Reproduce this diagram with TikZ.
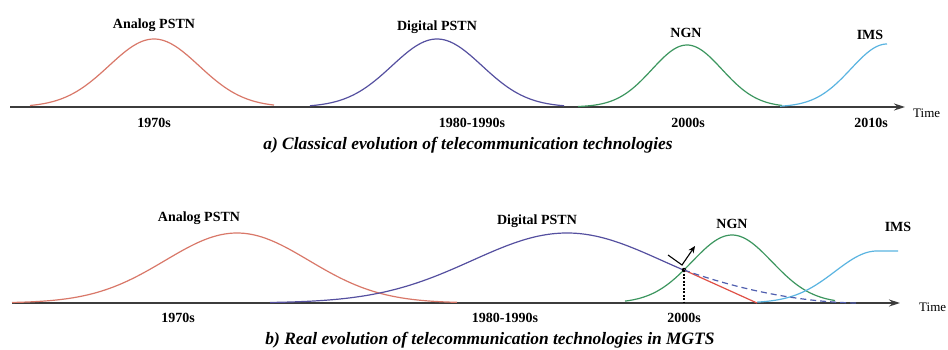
\documentclass[tikz,border=0pt]{standalone}
\usepackage{fontspec}
\setmainfont{Liberation Serif}
\usetikzlibrary{arrows.meta}
\definecolor{cRed}{RGB}{217,120,105}
\definecolor{cRedLine}{RGB}{224,80,70}
\definecolor{cBlue}{RGB}{85,80,160}
\definecolor{cDash}{RGB}{80,95,175}
\definecolor{cGreen}{RGB}{60,150,95}
\definecolor{cLight}{RGB}{90,180,225}
\definecolor{cAxis}{RGB}{60,60,60}
\begin{document}
\begin{tikzpicture}[x=1pt,y=-1pt,
  lbl/.style={font=\fontsize{14}{16}\selectfont\bfseries, anchor=base, inner sep=0pt},
  caplbl/.style={font=\fontsize{17.4}{20}\selectfont\bfseries\itshape, anchor=base, inner sep=0pt},
  timelbl/.style={font=\fontsize{13}{15}\selectfont, anchor=base west, inner sep=0pt},
  axisline/.style={draw=cAxis, line width=1.5pt, -{Stealth[length=11pt,width=7pt]}},
  curveline/.style={line width=1.2pt}
]
\fill[white] (0,0) rectangle (948,349);
\useasboundingbox (0,0) rectangle (948,349);

% ---------- panel a ----------
\coordinate (ta0) at (10,107);
\coordinate (ta1) at (905,107);
\draw[axisline] (ta0) -- (ta1);
\node[timelbl] (timeA) at (913,117) {Time};

\draw[cRed, curveline] plot[domain=30:274, samples=90] (\x, {107-68*exp(-0.5*((\x-154)/45)*((\x-154)/45))});
\draw[cBlue, curveline] plot[domain=310:564, samples=90] (\x, {107-68*exp(-0.5*((\x-437)/45)*((\x-437)/45))});
\draw[cGreen, curveline] plot[domain=578:782, samples=80] (\x, {107-62*exp(-0.5*((\x-687)/35)*((\x-687)/35))});
\draw[cLight, curveline] plot[domain=780:887, samples=60] (\x, {107-63*exp(-0.5*((\x-887)/36)*((\x-887)/36))});

\node[lbl] (aAn) at (154,28) {Analog PSTN};
\node[lbl] (aDi) at (437,30) {Digital PSTN};
\node[lbl] (aNg) at (686,37) {NGN};
\node[lbl] (aIm) at (870,39) {IMS};

\node[lbl] (a70) at (154,127) {1970s};
\node[lbl] (a80) at (472,127) {1980-1990s};
\node[lbl] (a00) at (688,127) {2000s};
\node[lbl] (a10) at (871,127) {2010s};

\node[caplbl] (capA) at (468,149) {a) Classical evolution of telecommunication technologies};

% ---------- panel b ----------
\coordinate (tb0) at (12,303);
\coordinate (tb1) at (900,303);
\draw[axisline] (tb0) -- (tb1);
\node[timelbl] (timeB) at (919,311) {Time};

\draw[cRed, curveline] plot[domain=12:457, samples=120] (\x, {303-70*exp(-0.5*((\x-237)/72)*((\x-237)/72))});
\draw[cBlue, curveline] plot[domain=270:684, samples=120] (\x, {303-70*exp(-0.5*((\x-567)/95)*((\x-567)/95))});
\draw[cGreen, curveline] plot[domain=625:835, samples=90] (\x, {303-68*exp(-0.5*((\x-732)/40)*((\x-732)/40))});
\draw[cLight, curveline] plot[domain=757:877, samples=60] (\x, {303-52*exp(-0.5*((\x-877)/42)*((\x-877)/42))}) -- (898,251);

\node[circle, fill=black, inner sep=0pt, minimum size=4.5pt] (xp) at (684,270) {};
\coordinate (xbase) at (684,303);
\coordinate (rEnd) at (757,303);
\coordinate (dEnd) at (856,303);
\draw[cRedLine, curveline] (xp.center) -- (rEnd);
\draw[cDash, curveline, dash pattern=on 6pt off 4pt] (xp.center) .. controls (740,290) and (800,302) .. (dEnd);
\draw[black, line width=1.1pt, dash pattern=on 2pt off 1.5pt] (xp.center) -- (xbase);

\coordinate (v1) at (668,255);
\coordinate (v2) at (682,265);
\coordinate (v3) at (695,246);
\draw[black, line width=1.1pt, -{Stealth[length=7pt,width=6pt]}] (v1) -- (v2) -- (v3);

\node[lbl] (bAn) at (199,221) {Analog PSTN};
\node[lbl] (bDi) at (537,224) {Digital PSTN};
\node[lbl] (bNg) at (732,228) {NGN};
\node[lbl] (bIm) at (898,231) {IMS};

\node[lbl] (b70) at (178,322) {1970s};
\node[lbl] (b80) at (505,322) {1980-1990s};
\node[lbl] (b00) at (684,322) {2000s};

\node[caplbl] (capB) at (490,344) {b) Real evolution of telecommunication technologies in MGTS};
\end{tikzpicture}
\end{document}
